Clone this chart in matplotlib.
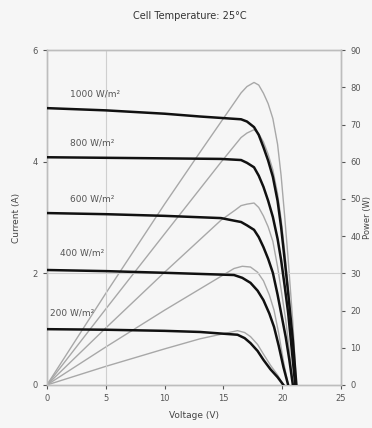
import matplotlib
matplotlib.use("Agg")
import matplotlib.pyplot as plt

title = "Cell Temperature: 25°C"
irradiance_labels = ["1000 W/m²", "800 W/m²", "600 W/m²", "400 W/m²", "200 W/m²"]

v1000 = [0, 5, 10, 13, 16.5, 17.0, 17.6, 18.0, 18.4, 18.8, 19.2, 19.6, 19.9, 20.2, 20.5, 20.9, 21.2]
i1000 = [4.96, 4.92, 4.86, 4.81, 4.76, 4.72, 4.62, 4.48, 4.26, 4.02, 3.73, 3.30, 2.83, 2.25, 1.65, 0.80, 0]
p1000 = [0, 24.6, 48.6, 62.5, 78.5, 80.2, 81.3, 80.6, 78.4, 75.6, 71.6, 64.7, 56.3, 45.5, 33.8, 16.7, 0]

v800 = [0, 5, 10, 14.8, 16.5, 17.0, 17.6, 18.0, 18.4, 18.8, 19.2, 19.6, 19.9, 20.2, 20.5, 20.8, 21.1]
i800 = [4.08, 4.07, 4.06, 4.05, 4.03, 3.98, 3.90, 3.75, 3.55, 3.30, 3.01, 2.62, 2.24, 1.78, 1.29, 0.65, 0]
p800 = [0, 20.4, 40.6, 59.9, 66.5, 67.7, 68.6, 67.5, 65.3, 62.0, 57.8, 51.4, 44.6, 36.0, 26.4, 13.5, 0]

v600 = [0, 5, 10, 14.8, 16.0, 16.5, 17.0, 17.6, 18.0, 18.4, 18.8, 19.2, 19.6, 19.9, 20.3, 20.6, 20.9]
i600 = [3.08, 3.06, 3.03, 2.99, 2.94, 2.92, 2.86, 2.78, 2.65, 2.47, 2.26, 2.01, 1.62, 1.29, 0.85, 0.45, 0]
p600 = [0, 15.3, 30.3, 44.3, 47.0, 48.2, 48.6, 48.9, 47.7, 45.4, 42.5, 38.6, 31.8, 25.7, 17.3, 9.3, 0]

v400 = [0, 5, 10, 15.9, 16.6, 17.3, 17.9, 18.4, 18.9, 19.3, 19.7, 20.1, 20.5]
i400 = [2.06, 2.04, 2.01, 1.97, 1.92, 1.83, 1.69, 1.52, 1.28, 1.04, 0.70, 0.32, 0]
p400 = [0, 10.2, 20.1, 31.3, 31.9, 31.7, 30.3, 28.0, 24.2, 20.1, 13.8, 6.4, 0]

v200 = [0, 5, 10, 13, 16.2, 16.8, 17.3, 17.9, 18.4, 19.0, 19.6, 20.1]
i200 = [1.00, 0.99, 0.97, 0.95, 0.90, 0.84, 0.75, 0.61, 0.45, 0.28, 0.14, 0]
p200 = [0, 5.0, 9.7, 12.4, 14.6, 14.1, 13.0, 10.9, 8.3, 5.3, 2.7, 0]

volts = [v1000, v800, v600, v400, v200]
currents = [i1000, i800, i600, i400, i200]
powers = [p1000, p800, p600, p400, p200]
label_pos = [(2.0, 5.22), (2.0, 4.33), (2.0, 3.33), (1.1, 2.36), (0.3, 1.29)]

x_ticks = [0, 5, 10, 15, 20, 25]
i_ticks = [0, 2, 4, 6]
p_ticks = [0, 10, 20, 30, 40, 50, 60, 70, 80, 90]

bg = "#f6f6f6"
fig = plt.figure(figsize=(3.72, 4.28), dpi=100, facecolor=bg)
ax = fig.add_axes([0.126, 0.1005, 0.791, 0.7825], facecolor=bg)
ax2 = ax.twinx()

ax.axvline(5, color="#cfcfcf", lw=0.8, zorder=0)
ax.axhline(2, color="#cfcfcf", lw=0.8, zorder=0)

for v, p in zip(volts, powers):
    ax2.plot(v, p, color="#a8a8a8", lw=1.0, zorder=1)
for v, c in zip(volts, currents):
    ax.plot(v, c, color="#111111", lw=1.8, zorder=3)
for (x, y), t in zip(label_pos, irradiance_labels):
    ax.text(x, y, t, fontsize=6.5, color="#555555", va="center", ha="left")

ax.set_xlim(0, 25)
ax.set_ylim(0, 6)
ax2.set_ylim(0, 90)
ax.set_xticks(x_ticks)
ax.set_yticks(i_ticks)
ax2.set_yticks(p_ticks)
ax.set_zorder(ax2.get_zorder() + 1)
ax.patch.set_visible(False)
ax2.patch.set_visible(True)
ax2.patch.set_facecolor(bg)

for a in (ax, ax2):
    for s in a.spines.values():
        s.set_color("#bdbdbd")
        s.set_linewidth(1.0)
    a.tick_params(labelsize=6, colors="#555555", length=3, width=0.8)

ax.set_xlabel("Voltage (V)", fontsize=6.5, color="#444444", labelpad=6)
ax.set_ylabel("Current (A)", fontsize=6.5, color="#444444", labelpad=8)
ax2.set_ylabel("Power (W)", fontsize=6, color="#444444", labelpad=1.5)
fig.text(0.51, 0.963, title, fontsize=7, color="#333333", ha="center", va="center")

fig.savefig("out.png", dpi=100, facecolor=bg)
